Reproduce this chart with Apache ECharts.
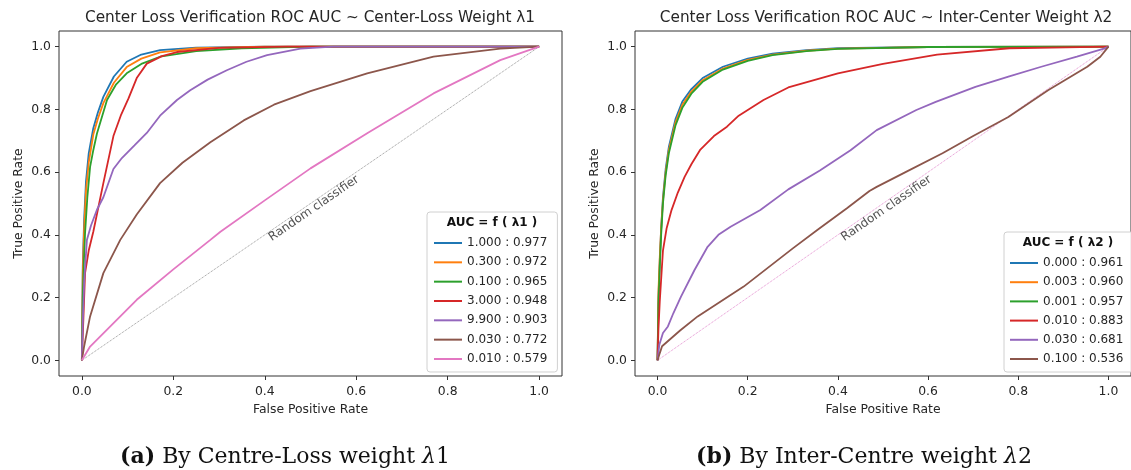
<!DOCTYPE html>
<html>
<head>
<meta charset="utf-8">
<script src="https://cdn.jsdelivr.net/npm/echarts@6/dist/echarts.min.js"></script>
<style>html,body{margin:0;padding:0;background:#fff;}#c{width:1131px;height:470px;}</style>
</head>
<body>
<div id="c"></div>
<script>
// ---- tick labels ----
const xTicks = [0, 0.2, 0.4, 0.6, 0.8, 1.0];
const yTicks = [0, 0.2, 0.4, 0.6, 0.8, 1.0];

// ---- (a) Centre-loss weight λ1 : [FPR, TPR] ----
const namesA = ['1.000 : 0.977', '0.300 : 0.972', '0.100 : 0.965', '3.000 : 0.948', '9.900 : 0.903', '0.030 : 0.772', '0.010 : 0.579'];
const a_1000 = [[0,0],[0.002,0.3],[0.005,0.45],[0.009,0.57],[0.015,0.66],[0.025,0.74],[0.035,0.79],[0.047,0.84],[0.07,0.905],[0.098,0.952],[0.13,0.975],[0.171,0.989],[0.25,0.997],[0.4,1],[1,1]];
const a_0300 = [[0,0],[0.002,0.28],[0.005,0.42],[0.009,0.54],[0.015,0.63],[0.025,0.72],[0.035,0.77],[0.047,0.82],[0.07,0.885],[0.098,0.935],[0.13,0.962],[0.171,0.982],[0.25,0.995],[0.4,1],[1,1]];
const a_0100 = [[0,0],[0.002,0.2],[0.004,0.3],[0.007,0.405],[0.012,0.52],[0.018,0.617],[0.025,0.67],[0.033,0.723],[0.055,0.83],[0.075,0.88],[0.098,0.915],[0.13,0.945],[0.171,0.968],[0.25,0.986],[0.35,0.995],[0.5,1],[1,1]];
const a_3000 = [[0,0],[0.003,0.12],[0.007,0.278],[0.015,0.35],[0.025,0.41],[0.047,0.565],[0.069,0.715],[0.085,0.78],[0.102,0.835],[0.12,0.9],[0.142,0.946],[0.175,0.97],[0.208,0.983],[0.3,0.996],[0.45,1],[1,1]];
const a_9900 = [[0,0],[0.002,0.12],[0.005,0.25],[0.011,0.384],[0.02,0.43],[0.033,0.48],[0.047,0.52],[0.069,0.61],[0.0875,0.645],[0.115,0.685],[0.142,0.725],[0.171,0.78],[0.208,0.83],[0.237,0.861],[0.275,0.895],[0.317,0.925],[0.36,0.952],[0.405,0.973],[0.478,0.994],[0.55,1],[1,1]];
const a_0030 = [[0,0],[0.005,0.045],[0.018,0.14],[0.047,0.278],[0.084,0.384],[0.12,0.465],[0.171,0.565],[0.22,0.63],[0.281,0.695],[0.354,0.765],[0.42,0.815],[0.5,0.858],[0.624,0.915],[0.769,0.968],[0.915,0.994],[1,1]];
const a_0010 = [[0,0],[0.018,0.044],[0.12,0.193],[0.2,0.29],[0.281,0.384],[0.303,0.41],[0.4,0.51],[0.5,0.612],[0.624,0.724],[0.769,0.851],[0.915,0.957],[1,1]];

// ---- (b) Inter-centre weight λ2 : [FPR, TPR] ----
const namesB = ['0.000 : 0.961', '0.003 : 0.960', '0.001 : 0.957', '0.010 : 0.883', '0.030 : 0.681', '0.100 : 0.536'];
const b_0000 = [[0,0],[0.002,0.2],[0.005,0.32],[0.008,0.42],[0.012,0.52],[0.018,0.61],[0.025,0.68],[0.04,0.77],[0.055,0.825],[0.075,0.865],[0.1,0.9],[0.145,0.936],[0.2,0.962],[0.255,0.978],[0.33,0.989],[0.4,0.995],[0.6,0.999],[1,1]];
const b_0003 = [[0,0],[0.002,0.22],[0.005,0.33],[0.008,0.42],[0.012,0.51],[0.018,0.6],[0.025,0.67],[0.04,0.76],[0.055,0.815],[0.075,0.857],[0.1,0.893],[0.145,0.93],[0.2,0.958],[0.255,0.975],[0.33,0.987],[0.4,0.994],[0.6,0.999],[1,1]];
const b_0001 = [[0,0],[0.002,0.18],[0.005,0.3],[0.008,0.4],[0.012,0.5],[0.018,0.59],[0.025,0.66],[0.04,0.75],[0.055,0.805],[0.075,0.85],[0.1,0.888],[0.145,0.927],[0.2,0.955],[0.255,0.973],[0.33,0.986],[0.4,0.993],[0.6,0.999],[1,1]];
const b_0010 = [[0,0],[0.002,0.1],[0.005,0.19],[0.012,0.35],[0.02,0.42],[0.031,0.479],[0.045,0.535],[0.06,0.585],[0.075,0.625],[0.095,0.672],[0.125,0.715],[0.154,0.745],[0.18,0.78],[0.235,0.83],[0.29,0.87],[0.4,0.915],[0.5,0.945],[0.62,0.975],[0.78,0.995],[1,1]];
const b_0030 = [[0,0],[0.004,0.05],[0.012,0.087],[0.023,0.108],[0.035,0.15],[0.052,0.203],[0.082,0.288],[0.111,0.362],[0.135,0.4],[0.162,0.426],[0.228,0.479],[0.29,0.545],[0.36,0.605],[0.428,0.67],[0.486,0.734],[0.574,0.798],[0.617,0.824],[0.705,0.872],[0.78,0.905],[0.851,0.936],[0.93,0.968],[0.99,0.994],[1,1]];
const b_0100 = [[0,0],[0.005,0.023],[0.01,0.045],[0.05,0.095],[0.089,0.14],[0.191,0.235],[0.3,0.357],[0.355,0.416],[0.42,0.485],[0.47,0.54],[0.486,0.553],[0.55,0.6],[0.632,0.66],[0.7,0.715],[0.778,0.776],[0.866,0.861],[0.953,0.936],[0.982,0.968],[1,1]];

const diagonal = [[0,0],[1,1]];
const randomLabelPos = [[0.5,0.5]];

const colors = ['#1f77b4','#ff7f0e','#2ca02c','#d62728','#9467bd','#8c564b','#e377c2'];
const seriesA = [a_1000, a_0300, a_0100, a_3000, a_9900, a_0030, a_0010];
const seriesB = [b_0000, b_0003, b_0001, b_0010, b_0030, b_0100];

const FONT = 'DejaVu Sans';
const TXT = '#262626';
const AX_FS = 12.4;

function makeAxisX(gi) {
  return {
    type: 'value', gridIndex: gi, min: -0.05, max: 1.05,
    name: 'False Positive Rate', nameLocation: 'middle', nameGap: 28,
    nameTextStyle: {fontFamily: FONT, fontSize: AX_FS, color: TXT},
    axisLine: {show: false, onZero: false},
    axisTick: {show: true, length: 4, customValues: xTicks, lineStyle: {color: '#333'}},
    axisLabel: {customValues: xTicks, formatter: v => v.toFixed(1), fontFamily: FONT, fontSize: AX_FS, color: TXT, margin: 10},
    splitLine: {show: false}
  };
}
function makeAxisY(gi) {
  return {
    type: 'value', gridIndex: gi, min: -0.05, max: 1.05,
    name: 'True Positive Rate', nameLocation: 'middle', nameGap: 34,
    nameTextStyle: {fontFamily: FONT, fontSize: AX_FS, color: TXT},
    axisLine: {show: false, onZero: false},
    axisTick: {show: true, length: 4, customValues: yTicks, lineStyle: {color: '#333'}},
    axisLabel: {customValues: yTicks, formatter: v => v.toFixed(1), fontFamily: FONT, fontSize: AX_FS, color: TXT, margin: 8},
    splitLine: {show: false}
  };
}

const series = [];
function addDiag(gi, color) {
  series.push({type: 'line', xAxisIndex: gi, yAxisIndex: gi, data: diagonal, showSymbol: false, silent: true,
    lineStyle: {color: color, width: 0.9, type: 'dotted'}, z: 1});
  series.push({type: 'scatter', xAxisIndex: gi, yAxisIndex: gi, data: randomLabelPos, symbolSize: 0, silent: true,
    label: {show: true, formatter: 'Random classifier', position: [0, 0], rotate: 34.5, align: 'center', verticalAlign: 'top',
      fontFamily: FONT, fontSize: 12, color: TXT}, z: 5});
}
addDiag(0, '#888');
addDiag(1, '#e07fc8');
seriesA.forEach((d, i) => series.push({name: namesA[i], type: 'line', xAxisIndex: 0, yAxisIndex: 0, data: d,
  showSymbol: false, symbol: 'none', lineStyle: {width: 1.8, color: colors[i]}, itemStyle: {color: colors[i]}, z: 2}));
seriesB.forEach((d, i) => series.push({name: namesB[i], type: 'line', xAxisIndex: 1, yAxisIndex: 1, data: d,
  showSymbol: false, symbol: 'none', lineStyle: {width: 1.8, color: colors[i]}, itemStyle: {color: colors[i]}, z: 2}));

const legendBase = {
  orient: 'vertical', icon: 'rect', itemWidth: 28, itemHeight: 2,
  textStyle: {fontFamily: FONT, fontSize: 12, color: TXT, lineHeight: 14},
  borderColor: '#d0d0d0', borderWidth: 1, borderRadius: 3, backgroundColor: 'rgba(255,255,255,0.85)',
  selectedMode: false
};

const captionRich = {
  b: {fontWeight: 'bold', fontFamily: 'DejaVu Serif', fontSize: 22, fill: '#111'},
  i: {fontStyle: 'italic', fontFamily: 'DejaVu Serif', fontSize: 22, fill: '#111'}
};

const option = {
  animation: false,
  backgroundColor: '#fff',
  grid: [
    {left: 59, top: 31, width: 503, height: 345, show: true, borderColor: '#333', borderWidth: 1, backgroundColor: 'transparent'},
    {left: 635, top: 31, width: 503, height: 345, show: true, borderColor: '#333', borderWidth: 1, backgroundColor: 'transparent'}
  ],
  xAxis: [makeAxisX(0), makeAxisX(1)],
  yAxis: [makeAxisY(0), makeAxisY(1)],
  legend: [
    Object.assign({}, legendBase, {data: namesA, left: 427, top: 212, padding: [24, 10, 6, 7], itemGap: 5.33}),
    Object.assign({}, legendBase, {data: namesB, left: 1004, top: 232, padding: [24, 10, 6, 6], itemGap: 5.2})
  ],
  graphic: [
    {type: 'text', x: 310, y: 18, z: 10, style: {text: 'Center Loss Verification ROC AUC ~ Center-Loss Weight λ1', align: 'center', verticalAlign: 'middle', font: '15.3px "DejaVu Sans"', fill: TXT}},
    {type: 'text', x: 886, y: 18, z: 10, style: {text: 'Center Loss Verification ROC AUC ~ Inter-Center Weight λ2', align: 'center', verticalAlign: 'middle', font: '15.3px "DejaVu Sans"', fill: TXT}},
    {type: 'text', x: 492, y: 223, z: 100, style: {text: 'AUC = f ( λ1 )', align: 'center', verticalAlign: 'middle', font: 'bold 12px "DejaVu Sans"', fill: '#111'}},
    {type: 'text', x: 1068, y: 243, z: 100, style: {text: 'AUC = f ( λ2 )', align: 'center', verticalAlign: 'middle', font: 'bold 12px "DejaVu Sans"', fill: '#111'}},
    {type: 'text', x: 285, y: 457, z: 10, style: {text: '{b|(a)} By Centre-Loss weight {i|λ}1', align: 'center', verticalAlign: 'middle',
      fontFamily: 'DejaVu Serif', fontSize: 22, fill: '#111', rich: captionRich}},
    {type: 'text', x: 864, y: 457, z: 10, style: {text: '{b|(b)} By Inter-Centre weight {i|λ}2', align: 'center', verticalAlign: 'middle',
      fontFamily: 'DejaVu Serif', fontSize: 22, fill: '#111', rich: captionRich}}
  ],
  series: series
};

const chart = echarts.init(document.getElementById('c'), null, {renderer: 'canvas'});
chart.setOption(option);
</script>
</body>
</html>
